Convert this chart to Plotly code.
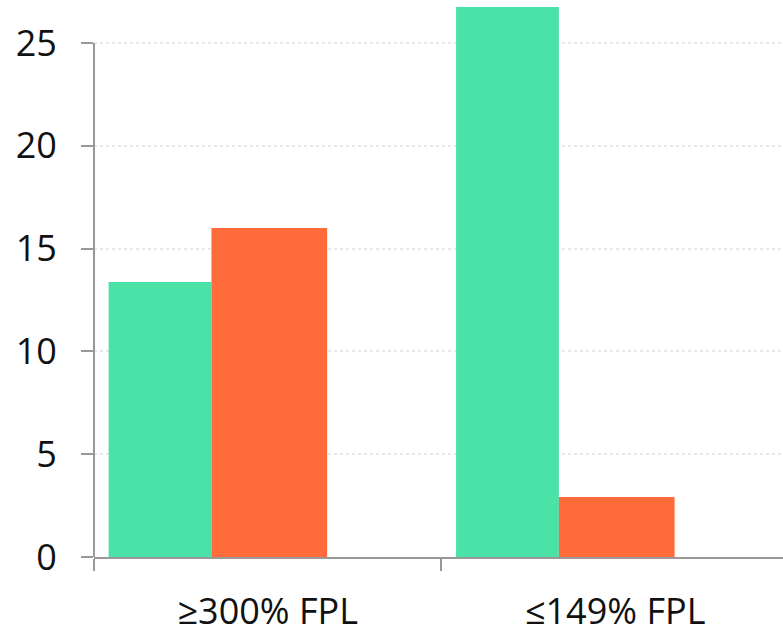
import plotly.graph_objects as go

categories = ["≥300% FPL", "≤149% FPL"]
series_a = [13.37, 26.75]
series_b = [16.0, 2.92]
y_ticks = [0, 5, 10, 15, 20, 25]

GREEN = "#4BE2A7"
ORANGE = "#FF6B3B"
AXIS = "#999999"

fig = go.Figure()
fig.add_trace(go.Bar(x=categories, y=series_a, marker=dict(color=GREEN, line=dict(width=0)),
                     offset=-0.458, width=0.296, showlegend=False))
fig.add_trace(go.Bar(x=categories, y=series_b, marker=dict(color=ORANGE, line=dict(width=0)),
                     offset=-0.162, width=0.333, showlegend=False))

# y-axis line drawn only up to the last tick, as in the reference
fig.add_shape(type="line", xref="paper", yref="y", x0=0, x1=0, y0=0, y1=y_ticks[-1],
              line=dict(color=AXIS, width=2), layer="above")

fig.update_layout(
    width=783, height=629,
    margin=dict(l=94, r=0, t=0, b=72, autoexpand=False),
    paper_bgcolor="white", plot_bgcolor="white",
    barmode="overlay",
    font=dict(family="Open Sans", size=36, color="#111111"),
    xaxis=dict(
        type="category", range=[-0.5, 1.483], automargin=False,
        showline=True, linecolor=AXIS, linewidth=2,
        ticks="outside", tickson="boundaries", ticklen=12, tickwidth=2, tickcolor=AXIS,
        showgrid=False, ticklabelstandoff=22,
        tickfont=dict(size=36),
    ),
    yaxis=dict(
        range=[0, 27.09], tickvals=y_ticks, automargin=False,
        showline=False,
        ticks="outside", ticklen=12, tickwidth=2, tickcolor=AXIS,
        showgrid=True, gridcolor="#E8E8E8", gridwidth=2, griddash="dot",
        zeroline=False, ticklabelstandoff=17,
        tickfont=dict(size=36),
    ),
)

fig.write_html(
    "out.html",
    config={"displayModeBar": False},
    post_script="document.body.style.margin='0';document.body.style.overflow='hidden';",
)
